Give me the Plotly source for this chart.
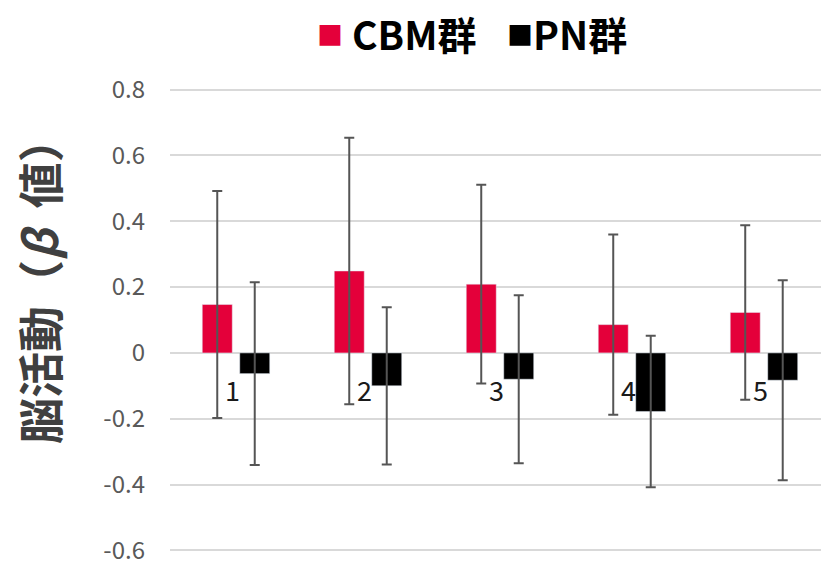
import plotly.graph_objects as go

# Brain activity (beta values) per condition, mean and SD for each group
categories = ["1", "2", "3", "4", "5"]
cbm_mean = [0.147, 0.249, 0.209, 0.086, 0.123]
cbm_sd = [0.345, 0.405, 0.302, 0.274, 0.265]
pn_mean = [-0.063, -0.100, -0.080, -0.178, -0.083]
pn_sd = [0.278, 0.239, 0.255, 0.230, 0.304]
y_ticks = [0.8, 0.6, 0.4, 0.2, 0, -0.2, -0.4, -0.6]
y_tick_text = ["0.8", "0.6", "0.4", "0.2", "0", "-0.2", "-0.4", "-0.6"]

RED = "#E4003A"
BLACK = "#000000"
ERR = "#555555"
GRID = "#D9D9D9"
FONT = "Noto Sans CJK JP"

x_idx = list(range(len(categories)))

fig = go.Figure()
fig.add_trace(go.Bar(
    x=x_idx, y=cbm_mean, name="CBM群", marker_color=RED,
    error_y=dict(type="data", array=cbm_sd, color=ERR, thickness=2, width=5),
))
fig.add_trace(go.Bar(
    x=x_idx, y=pn_mean, name="PN群", marker_color=BLACK,
    error_y=dict(type="data", array=pn_sd, color=ERR, thickness=2, width=5),
))

# Category labels sit just under the zero line, as in the original worksheet chart
for i, c in enumerate(categories):
    fig.add_annotation(x=i - 0.03, y=-0.11, text=c, showarrow=False,
                       xref="x", yref="y",
                       font=dict(family=FONT, size=27, color="#1a1a1a"))

# Legend drawn as text with square glyphs
legend_y = 1.1185
for sq_x, txt_x, color, label in [(0.2458, 0.2770, RED, "CBM群"),
                                  (0.5376, 0.5550, BLACK, "PN群")]:
    fig.add_annotation(xref="paper", yref="paper", x=sq_x, y=legend_y,
                       xanchor="center", yanchor="middle", showarrow=False,
                       text="■", font=dict(family=FONT, size=26, color=color))
    fig.add_annotation(xref="paper", yref="paper", x=txt_x, y=legend_y,
                       xanchor="left", yanchor="middle", showarrow=False,
                       text=f"<b>{label}</b>",
                       font=dict(family=FONT, size=39, color=BLACK))

# Y-axis title
fig.add_annotation(xref="paper", yref="paper", x=-0.2028, y=0.586,
                   xanchor="center", yanchor="middle", showarrow=False,
                   textangle=-90, text="<b>脳活動（<i>β</i>  値）</b>",
                   font=dict(family=FONT, size=46, color="#404040"))

fig.update_layout(
    width=821, height=565,
    margin=dict(l=170, r=0, t=88, b=13),
    paper_bgcolor="white", plot_bgcolor="white",
    barmode="group", bargap=0.432, bargroupgap=0.2,
    showlegend=False,
    font=dict(family=FONT),
    xaxis=dict(range=[-0.5, 4.432], showticklabels=False, showgrid=False,
               zeroline=False, showline=False, ticks=""),
    yaxis=dict(range=[-0.605, 0.805], tickvals=y_ticks, ticktext=y_tick_text,
               showgrid=True, gridcolor=GRID, gridwidth=1.5,
               zeroline=True, zerolinecolor=GRID, zerolinewidth=1.5,
               showline=False, ticks="", ticklabelstandoff=24,
               ticklabeloverflow="allow",
               tickfont=dict(family=FONT, size=24, color="#595959")),
)

fig.write_html("out.html")
